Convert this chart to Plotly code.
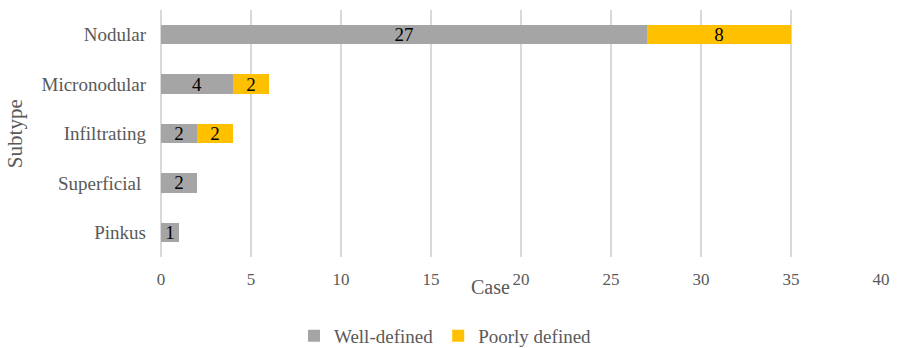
import plotly.graph_objects as go

subtypes = ["Pinkus", "Superficial ", "Infiltrating", "Micronodular", "Nodular"]
well_defined = [1, 2, 2, 4, 27]
poorly_defined = [None, None, 2, 2, 8]
x_ticks = [0, 5, 10, 15, 20, 25, 30, 35, 40]

FF = "Times New Roman, Liberation Serif, serif"

fig = go.Figure()
fig.add_trace(go.Bar(
    y=subtypes, x=well_defined, orientation="h", name="Well-defined",
    marker=dict(color="#A5A5A5", line=dict(width=0)),
    text=well_defined, textposition="inside", insidetextanchor="middle",
    textangle=0,
    textfont=dict(color="#000000", size=19, family=FF),
    constraintext="none",
))
fig.add_trace(go.Bar(
    y=subtypes, x=poorly_defined, orientation="h", name="Poorly defined",
    marker=dict(color="#FFC000", line=dict(width=0)),
    text=[("" if v is None else v) for v in poorly_defined], textposition="inside",
    insidetextanchor="middle", textangle=0,
    textfont=dict(color="#000000", size=19, family=FF),
    constraintext="none",
))

fig.update_layout(
    barmode="stack",
    bargap=0.61,
    width=900, height=348,
    margin=dict(l=161, r=11, t=10, b=91),
    paper_bgcolor="white", plot_bgcolor="white",
    font=dict(family=FF, size=17, color="#595959"),
    showlegend=True,
    legend=dict(orientation="h", xref="container", yref="container",
                x=0.495, xanchor="center", y=0.035, yanchor="middle",
                font=dict(family=FF, size=19, color="#595959"), traceorder="normal",
                itemwidth=30, tracegroupgap=0),
    xaxis=dict(range=[0, 40], tickvals=x_ticks, showgrid=True,
               gridcolor="#D9D9D9", gridwidth=1.5, zeroline=True,
               zerolinecolor="#D9D9D9", zerolinewidth=1.5, showline=False,
               ticks="", tickfont=dict(family=FF, size=17, color="#595959"),
               ticklabelstandoff=10),
    yaxis=dict(showgrid=False, showline=False, ticks="",
               tickfont=dict(family=FF, size=19, color="#595959"), ticklabelstandoff=14),
    annotations=[
        dict(text="Case", xref="paper", yref="paper", x=(494 - 161) / 728, y=-0.12,
             showarrow=False, font=dict(family=FF, size=20, color="#595959"),
             yanchor="middle"),
        dict(text="Subtype", xref="paper", yref="paper", x=(13 - 161) / 728, y=0.5,
             xanchor="center", yanchor="middle", textangle=-90, showarrow=False,
             font=dict(family=FF, size=21, color="#595959")),
    ],
)

fig.write_html("out.html")
